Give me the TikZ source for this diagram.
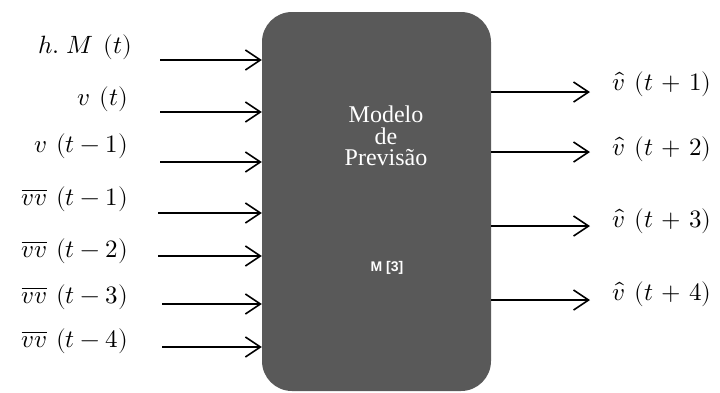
\documentclass[tikz,border=0pt]{standalone}
\usepackage{fontspec}
\usepackage{unicode-math}
\setmathfont{Latin Modern Math}
\usetikzlibrary{arrows.meta}
\newfontfamily\boxserif{Liberation Serif}
\newfontfamily\boxsans{Liberation Sans}
\definecolor{boxgray}{HTML}{595959}
\newcommand{\gp}{\mskip 7mu}
\begin{document}
\begin{tikzpicture}[x=1pt,y=-1pt,
  conn/.style={line width=1.6pt, -{Straight Barb[length=15pt,width=20pt]}},
  inlabel/.style={anchor=base east, inner sep=0pt, font=\fontsize{25}{28}\selectfont},
  outlabel/.style={anchor=base west, inner sep=0pt, font=\fontsize{25}{28}\selectfont},
  modelbox/.style={fill=boxgray, rounded corners=30pt, minimum width=229pt, minimum height=379pt, inner sep=0pt},
  boxtitle/.style={text=white, align=center, inner sep=0pt, font=\boxserif\fontsize{24}{21.5}\selectfont},
  boxtag/.style={text=white, inner sep=0pt, font=\boxsans\bfseries\fontsize{14}{16}\selectfont}]
\useasboundingbox (0,0) rectangle (720,392);
\node[modelbox] (box) at (376.5,201.5) {};
\node[boxtitle] (title) at (386,136) {Modelo\\de\\Previsão};
\node[boxtag] (tag) at (387,268) {M [3]};
% inputs
\node[inlabel] (l1) at (132,53) {$h.\mskip5mu M\gp(t)$};
\node[inlabel] (l2) at (128,105) {$v\gp(t)$};
\node[inlabel] (l3) at (128,152) {$v\gp(t-1)$};
\node[inlabel] (l4) at (128,205) {$\overline{vv}\gp(t-1)$};
\node[inlabel] (l5) at (128,257) {$\overline{vv}\gp(t-2)$};
\node[inlabel] (l6) at (128,303) {$\overline{vv}\gp(t-3)$};
\node[inlabel] (l7) at (128,347) {$\overline{vv}\gp(t-4)$};
\coordinate (s1) at (160,60);
\coordinate (s2) at (160,112);
\coordinate (s3) at (160,162);
\coordinate (s4) at (158,213);
\coordinate (s5) at (158,256);
\coordinate (s6) at (162,304);
\coordinate (s7) at (162,347);
\foreach \i in {1,...,7} \draw[conn] (s\i) -- (s\i -| box.west);
% outputs
\coordinate (e1) at (590,92);
\coordinate (e2) at (590,152);
\coordinate (e3) at (590,226);
\coordinate (e4) at (590,300);
\foreach \i in {1,...,4} \draw[conn] (e\i -| box.east) -- (e\i);
\node[outlabel] (o1) at (612,90) {$\hat{v}\gp(t\mskip2mu+\mskip2mu1)$};
\node[outlabel] (o2) at (612,155) {$\hat{v}\gp(t\mskip2mu+\mskip2mu2)$};
\node[outlabel] (o3) at (612,227) {$\hat{v}\gp(t\mskip2mu+\mskip2mu3)$};
\node[outlabel] (o4) at (612,300) {$\hat{v}\gp(t\mskip2mu+\mskip2mu4)$};
\end{tikzpicture}
\end{document}
